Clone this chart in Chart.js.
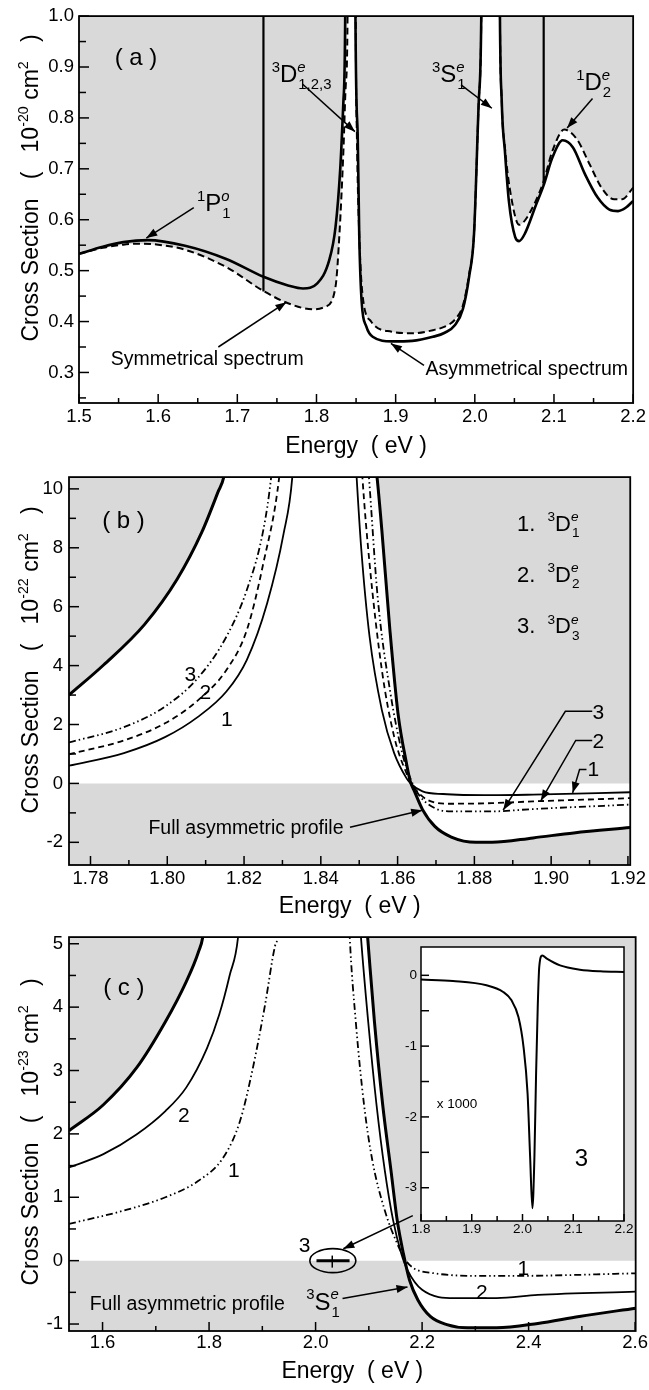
<!DOCTYPE html>
<html>
<head>
<script src="https://cdn.jsdelivr.net/npm/chart.js@4"></script>
<style>
  body { margin: 0; background: #fff; }
  canvas { position: absolute; left: 0; }
</style>
</head>
<body>
<canvas id="panelA" width="649" height="460" style="top:0px"></canvas>
<canvas id="panelB" width="649" height="460" style="top:460px"></canvas>
<canvas id="panelC" width="649" height="470" style="top:920px"></canvas>
<canvas id="inset" width="262" height="316" style="left:380px; top:930px"></canvas>
<script>
// ---- panel (a): cross section, units 1e-20 cm^2 ----
const aAsymE = [1.5, 1.53, 1.556, 1.587, 1.634, 1.686, 1.733, 1.764, 1.783, 1.801, 1.816, 1.824, 1.830, 1.834, 1.8365, 1.843, 1.849, 1.852, 1.854, 1.857, 1.863, 1.871, 1.895, 1.921, 1.947, 1.962, 1.975, 1.985, 1.993, 1.999, 2.005, 2.0085, 2.02, 2.0315, 2.034, 2.038, 2.043, 2.051, 2.056, 2.063, 2.077, 2.087, 2.098, 2.111, 2.124, 2.139, 2.155, 2.170, 2.181, 2.191, 2.2];
const aAsymS = [0.533, 0.547, 0.556, 0.560, 0.549, 0.523, 0.488, 0.471, 0.465, 0.475, 0.520, 0.585, 0.70, 0.833, 1.05, 6, 1.05, 0.77, 0.57, 0.44, 0.39, 0.37, 0.361, 0.362, 0.370, 0.378, 0.393, 0.425, 0.49, 0.572, 0.833, 1.05, 6, 1.05, 0.833, 0.735, 0.637, 0.566, 0.558, 0.572, 0.628, 0.668, 0.722, 0.756, 0.742, 0.69, 0.644, 0.62, 0.617, 0.624, 0.637];
const aSymE = [1.5, 1.53, 1.556, 1.575, 1.6, 1.634, 1.686, 1.733, 1.764, 1.796, 1.811, 1.824, 1.829, 1.834, 1.837, 1.8395, 1.845, 1.8495, 1.851, 1.854, 1.858, 1.869, 1.895, 1.921, 1.947, 1.962, 1.975, 1.985, 1.993, 1.999, 2.005, 2.0085, 2.02, 2.0315, 2.034, 2.038, 2.046, 2.056, 2.063, 2.077, 2.087, 2.098, 2.113, 2.129, 2.145, 2.160, 2.176, 2.186, 2.2];
const aSymS = [0.533, 0.545, 0.551, 0.553, 0.551, 0.541, 0.507, 0.460, 0.436, 0.424, 0.429, 0.468, 0.572, 0.735, 0.865, 1.05, 6, 1.05, 0.77, 0.57, 0.455, 0.40, 0.380, 0.377, 0.383, 0.390, 0.404, 0.432, 0.495, 0.572, 0.833, 1.05, 6, 1.05, 0.833, 0.742, 0.644, 0.590, 0.598, 0.637, 0.676, 0.735, 0.777, 0.758, 0.709, 0.663, 0.64, 0.64, 0.663];
// very narrow resonances: energy and lowest value of the vertical spike
const aSpikeE = [1.733, 2.087];
const aSpikeLow = [0.459, 0.668];

// ---- panel (b): 3De components, units 1e-22 cm^2 ----
const bFullE = [1.7744, 1.7834, 1.7941, 1.8026, 1.809, 1.8132, 1.8148, 1.835, 1.8546, 1.8559, 1.858, 1.8601, 1.8623, 1.8633, 1.8644, 1.8665, 1.8697, 1.874, 1.8804, 1.8846, 1.8953, 1.9059, 1.9206];
const bFullS = [3.0, 4.02, 5.40, 6.94, 8.53, 9.89, 10.45, 30, 10.45, 8.59, 5.2, 2.38, 0.69, 0.07, -0.27, -0.89, -1.46, -1.82, -2.0, -2.0, -1.85, -1.68, -1.50];
const b1E = [1.7744, 1.7887, 1.7994, 1.8079, 1.8154, 1.8207, 1.826, 1.8303, 1.8326, 1.841, 1.8493, 1.8505, 1.8527, 1.8559, 1.8591, 1.8623, 1.8633, 1.8665, 1.8718, 1.8846, 1.8953, 1.9206];
const b1S = [0.60, 1.03, 1.57, 2.25, 3.12, 4.19, 6.11, 8.48, 10.45, 30, 10.45, 8.02, 4.98, 2.49, 1.03, 0.18, 0.01, -0.27, -0.36, -0.40, -0.38, -0.30];
const b2E = [1.7744, 1.7887, 1.7994, 1.8079, 1.8154, 1.8207, 1.825, 1.8292, 1.842, 1.8508, 1.8527, 1.8559, 1.8591, 1.8623, 1.8644, 1.8687, 1.874, 1.8846, 1.8953, 1.9206];
const b2S = [0.99, 1.46, 2.04, 2.81, 3.85, 5.20, 7.46, 10.45, 30, 10.45, 7.46, 3.85, 1.59, 0.35, -0.16, -0.61, -0.69, -0.67, -0.61, -0.50];
const b3E = [1.7744, 1.7887, 1.7994, 1.8079, 1.8154, 1.8207, 1.825, 1.8271, 1.84, 1.8525, 1.8548, 1.858, 1.8612, 1.8633, 1.8655, 1.8697, 1.874, 1.8846, 1.8953, 1.9206];
const b3S = [1.39, 1.91, 2.61, 3.57, 4.98, 6.56, 8.59, 10.45, 30, 10.45, 6.33, 3.17, 1.03, 0.18, -0.38, -0.84, -0.95, -0.95, -0.87, -0.72];

// ---- panel (c): 3Se1 components, units 1e-23 cm^2 ----
const cFullE = [1.537, 1.6016, 1.6637, 1.718, 1.757, 1.780, 1.789, 1.95, 2.0973, 2.1105, 2.126, 2.1416, 2.1532, 2.1649, 2.1765, 2.1921, 2.2154, 2.2465, 2.2853, 2.3397, 2.4174, 2.4951, 2.601];
const cFullS = [2.05, 2.46, 3.04, 3.77, 4.40, 4.87, 5.15, 20, 5.15, 3.77, 2.46, 1.42, 0.64, 0.11, -0.31, -0.62, -0.88, -1.01, -1.06, -1.06, -0.99, -0.88, -0.75];
const c2E = [1.537, 1.6016, 1.6637, 1.718, 1.757, 1.796, 1.819, 1.8386, 1.855, 1.97, 2.0848, 2.0988, 2.1144, 2.13, 2.1455, 2.161, 2.1726, 2.20, 2.262, 2.3397, 2.4174, 2.601];
const c2S = [1.47, 1.68, 1.99, 2.36, 2.73, 3.35, 3.88, 4.50, 5.15, 20, 5.15, 3.77, 2.46, 1.42, 0.64, 0.11, -0.15, -0.46, -0.59, -0.59, -0.54, -0.49];
const c1E = [1.537, 1.640, 1.718, 1.780, 1.827, 1.858, 1.881, 1.905, 1.924, 1.929, 2.0, 2.0639, 2.0755, 2.091, 2.1066, 2.13, 2.1532, 2.1688, 2.1843, 2.2232, 2.3008, 2.3785, 2.601];
const c1S = [0.58, 0.79, 1.0, 1.26, 1.63, 2.20, 2.99, 4.03, 4.97, 5.15, 20, 5.15, 3.77, 2.46, 1.58, 0.79, 0.27, 0.01, -0.12, -0.2, -0.24, -0.24, -0.2];

// ---- inset: component 3, x 1000 ----
const insetE = [1.8, 1.863, 1.929, 1.962, 1.978, 1.992, 2.002, 2.010, 2.015, 2.0195, 2.0235, 2.0268, 2.030, 2.033, 2.039, 2.048, 2.074, 2.113, 2.153, 2.2];
const insetS = [-0.06, -0.08, -0.14, -0.235, -0.35, -0.59, -1.01, -1.67, -2.56, -3.29, -2.56, -1.38, -0.45, 0.12, 0.28, 0.235, 0.14, 0.08, 0.056, 0.047];

const GRAY = '#d9d9d9';
const FONT = '"Liberation Sans", Arial, Helvetica, sans-serif';
Chart.defaults.font.family = FONT;
Chart.defaults.color = '#000';

function pts(xs, ys) {
  return xs.map((x, i) => ({ x: x, y: ys[i] }));
}

// text with superscripts / subscripts, sub stacked under a preceding sup
function drawRich(ctx, x, y, parts, size, align) {
  const segs = [];
  let cx = 0, supX = null;
  parts.forEach(([t, k]) => {
    const small = k !== '';
    const fs = small ? size * 0.62 : size;
    const font = (k === 'supi' ? 'italic ' : '') + fs.toFixed(1) + 'px ' + FONT;
    ctx.font = font;
    const w = ctx.measureText(t).width;
    let sx = cx;
    if (k === 'sub' && supX !== null) sx = supX + 1;
    const dy = k === 'sub' ? size * 0.3 : (small ? -size * 0.42 : 0);
    segs.push({ t, font, sx, dy });
    supX = (k === 'sup' || k === 'supi') ? cx : null;
    cx = Math.max(cx, sx + w);
  });
  const off = align === 'center' ? -cx / 2 : (align === 'right' ? -cx : 0);
  ctx.textBaseline = 'alphabetic';
  ctx.textAlign = 'left';
  segs.forEach(s => {
    ctx.font = s.font;
    ctx.fillText(s.t, x + off + s.sx, y + s.dy);
  });
}

function drawPath(ctx, p, head) {
  ctx.beginPath();
  ctx.moveTo(p[0][0], p[0][1]);
  for (let i = 1; i < p.length; i++) ctx.lineTo(p[i][0], p[i][1]);
  ctx.stroke();
  if (head) {
    const [x2, y2] = p[p.length - 1], [x1, y1] = p[p.length - 2];
    const a = Math.atan2(y2 - y1, x2 - x1), L = 11, W = 4;
    ctx.beginPath();
    ctx.moveTo(x2, y2);
    ctx.lineTo(x2 - L * Math.cos(a) + W * Math.sin(a), y2 - L * Math.sin(a) - W * Math.cos(a));
    ctx.lineTo(x2 - L * Math.cos(a) - W * Math.sin(a), y2 - L * Math.sin(a) + W * Math.cos(a));
    ctx.closePath();
    ctx.fill();
  }
}

function innerTicks(ctx, scale, area, major, minor, bigLen, smallLen) {
  const first = Math.ceil(scale.min / minor - 1e-6);
  const last = Math.floor(scale.max / minor + 1e-6);
  for (let k = first; k <= last; k++) {
    const v = k * minor;
    const isMajor = Math.abs(v / major - Math.round(v / major)) < 1e-6;
    const len = isMajor ? bigLen : smallLen;
    const p = scale.getPixelForValue(v);
    ctx.beginPath();
    if (scale.isHorizontal()) { ctx.moveTo(p, area.bottom); ctx.lineTo(p, area.bottom - len); }
    else { ctx.moveTo(area.left, p); ctx.lineTo(area.left + len, p); }
    ctx.stroke();
  }
}

const framePlugin = {
  id: 'frame',
  beforeDraw(chart, args, o) {
    const a = chart.chartArea, ctx = chart.ctx;
    if (o.bg) {
      ctx.save();
      ctx.fillStyle = o.bg;
      ctx.fillRect(a.left, a.top, a.right - a.left, a.bottom - a.top);
      ctx.restore();
    }
  },
  afterDatasetsDraw(chart, args, o) {
    const a = chart.chartArea, ctx = chart.ctx;
    ctx.save();
    ctx.strokeStyle = '#000';
    ctx.lineWidth = 1.5;
    innerTicks(ctx, chart.scales.x, a, o.xt[0], o.xt[1], o.xt[2], o.xt[3]);
    innerTicks(ctx, chart.scales.y, a, o.yt[0], o.yt[1], o.yt[2], o.yt[3]);
    ctx.lineWidth = o.boxW || 1.8;
    ctx.strokeRect(a.left, a.top, a.right - a.left, a.bottom - a.top);
    ctx.restore();
  },
  afterDraw(chart, args, o) {
    const ctx = chart.ctx, xs = chart.scales.x, ys = chart.scales.y;
    const px = p => [xs.getPixelForValue(p[0]), ys.getPixelForValue(p[1])];
    ctx.save();
    ctx.fillStyle = '#000';
    ctx.strokeStyle = '#000';
    (o.notes || []).forEach(n => {
      if (n.t === 'text') {
        const [x, y] = px(n.at);
        drawRich(ctx, x, y + (n.mid ? n.size * 0.36 : 0), n.parts, n.size, n.align || 'left');
      } else if (n.t === 'arrow' || n.t === 'line') {
        ctx.lineWidth = n.w || 1.5;
        drawPath(ctx, n.path.map(px), n.t === 'arrow');
      } else if (n.t === 'ellipse') {
        const [x, y] = px(n.at);
        ctx.lineWidth = 1.6;
        ctx.beginPath();
        ctx.ellipse(x, y, n.rx, n.ry, 0, 0, 2 * Math.PI);
        ctx.stroke();
      }
    });
    if (o.ytitle) {
      ctx.translate(o.ytitle.x, o.ytitle.y);
      ctx.rotate(-Math.PI / 2);
      drawRich(ctx, 0, 0, o.ytitle.parts, o.ytitle.size, 'center');
    }
    ctx.restore();
  }
};

function axis(min, max, step, dec, size, pad, fit) {
  return {
    type: 'linear', min: min, max: max,
    grid: { display: false, drawTicks: false },
    border: { display: false },
    ticks: {
      stepSize: step, includeBounds: false, autoSkip: false, maxRotation: 0,
      padding: pad, color: '#000', font: { size: size },
      callback: v => v.toFixed(dec)
    },
    afterFit: fit
  };
}

function line(data, width, dash, fill) {
  return {
    data: data, borderColor: '#000', borderWidth: width, borderDash: dash || [],
    pointRadius: 0, cubicInterpolationMode: 'monotone', fill: fill || false,
    borderJoinStyle: 'round'
  };
}

function makeChart(id, datasets, xs, ys, pad, xTitlePad, frame) {
  xs.title = { display: xTitlePad !== null, text: 'Energy  ( eV )', font: { size: 23 }, color: '#000', padding: { top: 0, bottom: xTitlePad || 0 } };
  return new Chart(document.getElementById(id).getContext('2d'), {
    type: 'line',
    data: { datasets: datasets },
    options: {
      responsive: false, animation: false, devicePixelRatio: 1,
      layout: { padding: pad },
      scales: { x: xs, y: ys },
      plugins: {
        legend: { display: false }, tooltip: { enabled: false },
        filler: { drawTime: 'beforeDatasetsDraw' },
        frame: frame
      }
    },
    plugins: [framePlugin]
  });
}

const whiteBand = { target: { value: 0 }, above: '#fff', below: '#fff' };
const grayTop = { target: 'end', above: GRAY, below: GRAY };
const dashDotDot = [7, 3, 1.5, 3, 1.5, 3];
const TICK = 18.5, NOTE = 19.5;

const D = (n, sub) => [['3', 'sup'], [n, ''], ['e', 'supi'], [sub, 'sub']];
const yTitle = (exp, y) => ({ x: 38, y: y, size: 23, parts: [['Cross Section   (   10', ''], [exp, 'sup'], [' cm', ''], ['2', 'sup'], ['   )', '']] });

// vertical spikes of the narrow resonances, drawn up past the top of the axis
const spikeSets = aSpikeE.map((e, i) => line(pts([e, e], [aSpikeLow[i], 1.3]), 2.2));

// panel (a)
makeChart('panelA',
  [line(pts(aSymE, aSymS), 2, [7, 4], grayTop), line(pts(aAsymE, aAsymS), 2.6)].concat(spikeSets),
  axis(1.5, 2.2, 0.1, 1, TICK, 3, s => { s.height = 57; }),
  axis(0.24, 1.0, 0.1, 1, TICK, 5, s => { s.width = 79; }),
  { left: 0, right: 12, top: 14, bottom: 0 }, 0,
  {
    xt: [0.1, 0.05, 9, 5], yt: [0.1, 0.05, 10, 7],
    ytitle: yTitle('-20', 188),
    notes: [
      { t: 'text', at: [1.572, 0.92], parts: [['( a )', '']], size: 24, align: 'center', mid: true },
      { t: 'text', at: [1.7434, 0.871], parts: [['3', 'sup'], ['D', ''], ['e', 'supi'], ['1,2,3', 'sub']], size: 24 },
      { t: 'arrow', path: [[1.7826, 0.866], [1.8486, 0.773]] },
      { t: 'text', at: [1.946, 0.871], parts: [['3', 'sup'], ['S', ''], ['e', 'supi'], ['1', 'sub']], size: 24 },
      { t: 'arrow', path: [[1.9826, 0.865], [2.0215, 0.819]] },
      { t: 'text', at: [2.128, 0.855], parts: [['1', 'sup'], ['D', ''], ['e', 'supi'], ['2', 'sub']], size: 24 },
      { t: 'arrow', path: [[2.1487, 0.838], [2.1166, 0.78]] },
      { t: 'text', at: [1.649, 0.617], parts: [['1', 'sup'], ['P', ''], ['o', 'supi'], ['1', 'sub']], size: 24 },
      { t: 'arrow', path: [[1.645, 0.624], [1.585, 0.564]] },
      { t: 'text', at: [1.662, 0.314], parts: [['Symmetrical spectrum', '']], size: NOTE, align: 'center' },
      { t: 'arrow', path: [[1.676, 0.35], [1.762, 0.438]] },
      { t: 'text', at: [2.0656, 0.295], parts: [['Asymmetrical spectrum', '']], size: NOTE, align: 'center' },
      { t: 'arrow', path: [[1.9358, 0.314], [1.894, 0.357]] }
    ]
  });

// panel (b)
makeChart('panelB',
  [line(pts(bFullE, bFullS), 3, null, whiteBand), line(pts(b1E, b1S), 1.8),
   line(pts(b2E, b2S), 1.8, [6, 4]), line(pts(b3E, b3S), 1.8, dashDotDot)],
  axis(1.7744, 1.9206, 0.02, 2, TICK, 3, s => { s.height = 55; }),
  axis(-2.77, 10.40, 2, 0, TICK, 6, s => { s.width = 69; }),
  { left: 0, right: 16, top: 12, bottom: 0 }, 0,
  {
    bg: GRAY,
    xt: [0.02, 0.01, 9, 5], yt: [2, 1, 10, 7],
    ytitle: yTitle('-22', 200),
    notes: [
      { t: 'text', at: [1.7886, 8.97], parts: [['( b )', '']], size: 24, align: 'center', mid: true },
      { t: 'text', at: [1.8911, 8.58], parts: [['1.  ', '']].concat(D('D', '1')), size: 22 },
      { t: 'text', at: [1.8911, 6.85], parts: [['2.  ', '']].concat(D('D', '2')), size: 22 },
      { t: 'text', at: [1.8911, 5.11], parts: [['3.  ', '']].concat(D('D', '3')), size: 22 },
      { t: 'text', at: [1.8060, 3.72], parts: [['3', '']], size: 21, align: 'center', mid: true },
      { t: 'text', at: [1.8099, 3.12], parts: [['2', '']], size: 21, align: 'center', mid: true },
      { t: 'text', at: [1.8155, 2.20], parts: [['1', '']], size: 21, align: 'center', mid: true },
      { t: 'text', at: [1.9123, 2.46], parts: [['3', '']], size: 21, align: 'center', mid: true },
      { t: 'text', at: [1.9123, 1.47], parts: [['2', '']], size: 21, align: 'center', mid: true },
      { t: 'text', at: [1.9110, 0.50], parts: [['1', '']], size: 21, align: 'center', mid: true },
      { t: 'arrow', path: [[1.9107, 2.45], [1.9037, 2.45], [1.8875, -0.91]] },
      { t: 'arrow', path: [[1.9107, 1.46], [1.9064, 1.46], [1.8973, -0.59]] },
      { t: 'arrow', path: [[1.9092, 0.47], [1.9074, 0.47], [1.9056, -0.32]] },
      { t: 'text', at: [1.8205, -1.71], parts: [['Full asymmetric profile', '']], size: NOTE, align: 'center' },
      { t: 'arrow', path: [[1.8476, -1.49], [1.8664, -0.91]] }
    ]
  });

// panel (c)
makeChart('panelC',
  [line(pts(cFullE, cFullS), 3, null, whiteBand), line(pts(c2E, c2S), 1.8),
   line(pts(c1E, c1S), 1.8, dashDotDot)],
  axis(1.537, 2.601, 0.2, 1, TICK, 1, s => { s.height = 59; }),
  axis(-1.11, 5.105, 1, 0, TICK, 6, s => { s.width = 69; }),
  { left: 0, right: 13, top: 15, bottom: 0 }, 5,
  {
    bg: GRAY,
    xt: [0.2, 0.1, 9, 5], yt: [1, 0.5, 10, 7],
    ytitle: yTitle('-23', 212),
    notes: [
      { t: 'text', at: [1.640, 4.32], parts: [['( c )', '']], size: 24, align: 'center', mid: true },
      { t: 'text', at: [1.7528, 2.31], parts: [['2', '']], size: 21, align: 'center', mid: true },
      { t: 'text', at: [1.8466, 1.44], parts: [['1', '']], size: 21, align: 'center', mid: true },
      { t: 'text', at: [1.9793, 0.254], parts: [['3', '']], size: 21, align: 'center', mid: true },
      { t: 'ellipse', at: [2.0324, 0], rx: 23, ry: 12 },
      { t: 'line', path: [[2.0017, 0], [2.0638, 0]], w: 3 },
      { t: 'line', path: [[2.0313, 0.08], [2.0313, -0.11]], w: 1.5 },
      { t: 'text', at: [2.390, -0.115], parts: [['1', '']], size: 21, align: 'center', mid: true },
      { t: 'text', at: [2.312, -0.478], parts: [['2', '']], size: 21, align: 'center', mid: true },
      { t: 'text', at: [1.759, -0.771], parts: [['Full asymmetric profile', '']], size: NOTE, align: 'center' },
      { t: 'text', at: [1.9823, -0.771], parts: [['3', 'sup'], ['S', ''], ['e', 'supi'], ['1', 'sub']], size: 24 },
      { t: 'arrow', path: [[2.0506, -0.598], [2.1726, -0.416]] },
      { t: 'arrow', path: [[2.1826, 0.71], [2.0521, 0.187]] }
    ]
  });

// inset of panel (c)
makeChart('inset',
  [line(pts(insetE, insetS), 2)],
  axis(1.8, 2.2, 0.1, 1, 13.5, 0, s => { s.height = 25; }),
  axis(-3.47, 0.40, 1, 0, 13.5, 4, s => { s.width = 41; }),
  { left: 0, right: 18, top: 17, bottom: 0 }, null,
  {
    bg: '#fff', boxW: 1.5,
    xt: [0.1, 0.05, 7, 5], yt: [1, 0.5, 8, 8],
    notes: [
      { t: 'text', at: [1.871, -1.80], parts: [['x 1000', '']], size: 13.5, align: 'center', mid: true },
      { t: 'text', at: [2.116, -2.57], parts: [['3', '']], size: 24, align: 'center', mid: true }
    ]
  });
</script>
</body>
</html>
